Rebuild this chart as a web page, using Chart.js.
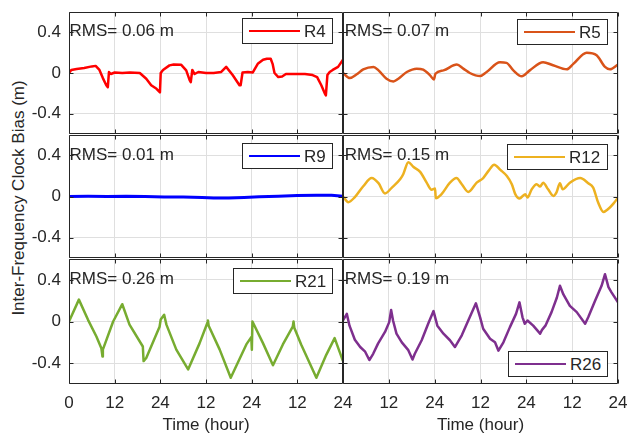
<!DOCTYPE html>
<html>
<head>
<meta charset="utf-8">
<title>Inter-Frequency Clock Bias</title>
<script src="https://cdn.jsdelivr.net/npm/chart.js@4/dist/chart.umd.min.js"></script>
<style>
  html, body { margin: 0; padding: 0; background: #fff; overflow: hidden; }
  #page { position: relative; width: 627px; height: 438px; overflow: hidden;
          font-family: "Liberation Sans", Arial, sans-serif; color: #262626; }
  .panel { position: absolute; }
  .panel canvas { display: block; }
  .rms { position: absolute; font-size: 17px; line-height: 17px; white-space: nowrap; }
  .legend { position: absolute; box-sizing: border-box; border: 1px solid #262626; background: #fff;
            display: flex; align-items: center; }
  .legend .swatch { position: absolute; left: 6px; width: 51px; height: 2px; }
  .legend .name { position: absolute; left: 61px; font-size: 17px; line-height: 17px; }
  #ytitle { position: absolute; left: 18px; top: 198px; font-size: 17px; line-height: 17px; white-space: nowrap;
            transform: translate(-50%, -50%) rotate(-90deg); }
</style>
</head>
<body>
<div id="page">
  <div id="ytitle">Inter-Frequency Clock Bias (m)</div>
</div>
<script>
// axis ticks (hours run 0..72 over three days, labelled per day)
const xTickValues = [0, 12, 24, 36, 48, 60, 72];
const xTickLabels = ['0', '12', '24', '12', '24', '12', '24'];
const yTickValues = [-0.4, 0, 0.4];
const yTickLabels = ['-0.4', '0', '0.4'];

const seriesNames = ['R4', 'R5', 'R9', 'R12', 'R21', 'R26'];
const rmsLabels = ['RMS= 0.06 m', 'RMS= 0.07 m', 'RMS= 0.01 m', 'RMS= 0.15 m', 'RMS= 0.26 m', 'RMS= 0.19 m'];

// values (hour, bias in m)
const r4Hours = [0, 0.6, 2, 4, 6, 7, 8, 8.9, 9.8, 10.2, 10.5, 11, 12, 14, 16, 18.6, 20.3, 21.6, 23, 23.9, 24.1, 24.7, 26.4, 27.5, 29.5, 30.8, 31.7, 32, 32.4, 33, 34, 36, 38, 40, 41.3, 43, 44.8, 45.1, 45.6, 47, 48.3, 49.6, 51, 52, 53, 53.5, 54, 55, 56, 57, 62, 64, 65.2, 66.3, 67.2, 67.5, 67.9, 68.5, 69.3, 70.7, 72];
const r4Bias = [0, 0.03, 0.04, 0.05, 0.065, 0.07, 0.03, -0.05, -0.12, -0.14, 0.01, -0.01, 0.005, 0, 0.005, 0, -0.056, -0.12, -0.155, -0.19, 0, 0.03, 0.075, 0.083, 0.08, 0.026, -0.07, -0.09, 0.03, -0.01, 0.01, 0, 0, 0.01, 0.06, -0.02, -0.12, -0.12, 0.005, 0.01, 0.005, 0.09, 0.13, 0.14, 0.14, 0.09, 0, -0.04, -0.035, -0.01, -0.01, -0.02, -0.04, -0.12, -0.2, -0.22, -0.02, 0.01, 0.03, 0.06, 0.13];

const r5Hours = [0, 1.8, 3.6, 5.3, 8, 9.3, 11.4, 13.2, 14.5, 16.7, 19.3, 21, 22.8, 23.8, 24.2, 26.3, 29.8, 31.5, 33.2, 35.9, 37.6, 41.1, 42.8, 44.6, 46.8, 48.9, 52.4, 55, 58.6, 60.3, 63.8, 66.4, 68.6, 69.9, 72];
const r5Bias = [0, -0.05, -0.013, 0.036, 0.06, 0.026, -0.056, -0.083, -0.056, 0.01, 0.043, 0.033, -0.023, -0.063, -0.007, 0.026, 0.083, 0.043, 0, -0.03, 0.01, 0.106, 0.1, 0.026, -0.033, 0.026, 0.106, 0.076, 0.036, 0.09, 0.2, 0.175, 0.06, 0.036, 0.083];

const r9Hours = [0, 5, 10, 15, 20, 25, 30, 35, 38, 42, 46, 50, 55, 60, 65, 69, 72];
const r9Bias = [0, 0.002, 0, 0.003, 0, -0.005, -0.005, -0.01, -0.015, -0.015, -0.01, -0.003, 0.002, 0.01, 0.013, 0.012, 0.003];

const r12Hours = [0, 1.4, 3.1, 5.3, 7.5, 9.3, 11, 12.8, 15, 15.8, 17.1, 18.4, 20.2, 21.9, 23.2, 24.1, 24.3, 25.8, 28, 29.7, 31.1, 32.8, 35, 36.7, 38.1, 39.6, 41.2, 42.9, 44.2, 45.1, 46.2, 47.7, 48.3, 49.4, 50.7, 51.6, 52.4, 53.7, 55.1, 55.9, 56.8, 57.5, 59.4, 62.1, 64.2, 65.5, 66.8, 68.2, 69.5, 70.8, 72];
const r12Bias = [0, -0.055, -0.006, 0.1, 0.18, 0.13, 0.03, 0.087, 0.17, 0.22, 0.335, 0.29, 0.24, 0.135, 0.065, 0.077, -0.016, 0.023, 0.135, 0.18, 0.12, 0.045, 0.135, 0.18, 0.25, 0.31, 0.26, 0.2, 0.12, 0.023, -0.02, 0.023, -0.01, 0.07, 0.12, 0.097, 0.135, 0.07, 0.006, 0.04, 0.13, 0.07, 0.135, 0.18, 0.13, 0.087, -0.058, -0.15, -0.12, -0.07, -0.01];

const r21Hours = [0, 2.6, 5, 7.2, 8.5, 8.8, 8.9, 11.6, 14, 15.9, 19.4, 19.6, 20.3, 23.8, 24.1, 25, 25.6, 28.2, 31.3, 34.3, 36.4, 36.5, 36.7, 39.6, 42.5, 46.6, 47.9, 48.05, 48.2, 51, 53.6, 56.2, 58.8, 59, 59.2, 61, 65, 67.6, 69.8, 72];
const r21Bias = [0, 0.21, 0.016, -0.144, -0.256, -0.336, -0.27, 0, 0.166, -0.03, -0.24, -0.38, -0.35, -0.05, 0.02, 0.064, -0.03, -0.27, -0.46, -0.21, -0.01, 0.01, -0.04, -0.27, -0.54, -0.22, -0.15, -0.27, 0, -0.21, -0.42, -0.22, -0.05, 0, -0.06, -0.22, -0.54, -0.32, -0.16, -0.38];

const r26Hours = [0, 1, 1.7, 3.1, 4.5, 5.8, 6.9, 7.9, 9.2, 11, 12.1, 12.6, 13.1, 14, 15.4, 17.1, 18.2, 18.8, 20.6, 22.3, 23.7, 24.7, 26.3, 28, 29.3, 31.1, 32.8, 34.8, 35.9, 36.7, 38.5, 39.8, 40.7, 42, 43.7, 45.3, 46.2, 47, 47.6, 48.3, 49.8, 51.6, 52.1, 53, 54.6, 56, 56.8, 57.7, 59.4, 61.2, 63.4, 64.2, 66, 67.7, 68.6, 69.5, 70.3, 72];
const r26Bias = [0.01, 0.073, -0.04, -0.175, -0.245, -0.29, -0.37, -0.31, -0.21, -0.1, -0.006, 0.11, 0.01, -0.117, -0.2, -0.275, -0.365, -0.31, -0.18, -0.022, 0.1, -0.04, -0.117, -0.18, -0.245, -0.133, 0.01, 0.175, 0.04, -0.07, -0.165, -0.2, -0.28, -0.2, -0.054, 0.073, 0.184, 0.04, -0.022, 0.01, -0.04, -0.117, -0.08, -0.04, 0.09, 0.23, 0.343, 0.26, 0.15, 0.09, -0.022, 0.04, 0.2, 0.343, 0.454, 0.33, 0.28, 0.184];

const seriesHours = [r4Hours, r5Hours, r9Hours, r12Hours, r21Hours, r26Hours];
const seriesBias = [r4Bias, r5Bias, r9Bias, r12Bias, r21Bias, r26Bias];
const seriesColors = ['#ff0000', '#d95319', '#0000ff', '#edb120', '#77ac30', '#7e2f8e'];
const seriesWidths = [2.5, 2.5, 3, 2.5, 2.5, 2.5];
const seriesSmooth = [false, true, false, true, false, false];

// layout: canvas boxes per column/row, padded so plot areas line up like the subplot grid
const colBoxes = [
  { left: 0, width: 360, padLeft: 0, padRight: 17, yWidth: 69 },
  { left: 341, width: 290, padLeft: 2, padRight: 13, yWidth: 0 }
];
const rowBoxes = [
  { top: 0, height: 136, padTop: 12, padBottom: 2, xHeight: 0 },
  { top: 133, height: 127, padTop: 2, padBottom: 2, xHeight: 0 },
  { top: 257, height: 181, padTop: 2, padBottom: 0, xHeight: 54 }
];
const rmsTops = [21.6, 145.6, 270];
const rmsLefts = [69.5, 344.7];
const legendBoxes = [
  { left: 242, top: 18, width: 91 },
  { left: 517, top: 19, width: 91 },
  { left: 242, top: 143, width: 91 },
  { left: 507, top: 144, width: 101 },
  { left: 233, top: 268, width: 100 },
  { left: 508, top: 351, width: 100 }
];

const textColor = '#262626';
const gridColor = '#dfdfdf';
const tickFont = { family: '"Liberation Sans", Arial, sans-serif', size: 17 };

// MATLAB-style box with inward tick marks
const boxPlugin = {
  id: 'box',
  afterDraw(chart) {
    const { ctx, chartArea: a, scales } = chart;
    const L = Math.round(a.left) + 0.5, R = Math.round(a.right) - 0.5;
    const T = Math.round(a.top) + 0.5, B = Math.round(a.bottom) - 0.5;
    ctx.save();
    ctx.strokeStyle = textColor;
    ctx.lineWidth = 1;
    ctx.beginPath();
    ctx.rect(L, T, R - L, B - T);
    xTickValues.forEach(v => {
      const px = Math.round(scales.x.getPixelForValue(v)) + 0.5;
      ctx.moveTo(px, T); ctx.lineTo(px, T + 4);
      ctx.moveTo(px, B); ctx.lineTo(px, B - 4);
    });
    yTickValues.forEach(v => {
      const py = Math.round(scales.y.getPixelForValue(v)) + 0.5;
      ctx.moveTo(L, py); ctx.lineTo(L + 4, py);
      ctx.moveTo(R, py); ctx.lineTo(R - 4, py);
    });
    ctx.stroke();
    ctx.restore();
  }
};

// keep Chart.js from reserving room for overhanging tick labels
function noOverhang(s) {
  s.paddingTop = 0; s.paddingBottom = 0; s.paddingLeft = 0; s.paddingRight = 0;
}

const page = document.getElementById('page');

function makePanel(i) {
  const col = i % 2, row = Math.floor(i / 2);
  const cb = colBoxes[col], rb = rowBoxes[row];
  const isLeft = col === 0, isBottom = row === 2;

  const wrap = document.createElement('div');
  wrap.className = 'panel';
  wrap.style.left = cb.left + 'px';
  wrap.style.top = rb.top + 'px';
  const canvas = document.createElement('canvas');
  canvas.width = cb.width; canvas.height = rb.height;
  canvas.style.width = cb.width + 'px'; canvas.style.height = rb.height + 'px';
  wrap.appendChild(canvas);
  page.appendChild(wrap);

  const points = seriesHours[i].map((h, k) => ({ x: h, y: seriesBias[i][k] }));

  new Chart(canvas, {
    type: 'line',
    data: {
      datasets: [{
        label: seriesNames[i],
        data: points,
        borderColor: seriesColors[i],
        borderWidth: seriesWidths[i],
        borderJoinStyle: 'round',
        pointRadius: 0,
        cubicInterpolationMode: seriesSmooth[i] ? 'monotone' : 'default',
        tension: 0
      }]
    },
    options: {
      responsive: false,
      animation: false,
      devicePixelRatio: 1,
      layout: { padding: { left: cb.padLeft, right: cb.padRight, top: rb.padTop, bottom: rb.padBottom } },
      plugins: { legend: { display: false }, tooltip: { enabled: false } },
      scales: {
        x: {
          type: 'linear', min: 0, max: 72,
          afterBuildTicks: s => { s.ticks = xTickValues.map(v => ({ value: v })); },
          afterFit: s => { s.height = rb.xHeight; noOverhang(s); },
          grid: { color: gridColor, drawTicks: false },
          border: { display: false },
          ticks: {
            display: isBottom, padding: 9, font: tickFont, color: textColor,
            maxRotation: 0, autoSkip: false,
            callback: v => {
              const k = xTickValues.indexOf(v);
              if (!isLeft && k === 0) return '';
              return xTickLabels[k];
            }
          },
          title: { display: isBottom, text: 'Time (hour)', font: tickFont, color: textColor, padding: { top: 0, bottom: 2 } }
        },
        y: {
          type: 'linear', min: -0.6, max: 0.6,
          afterBuildTicks: s => { s.ticks = yTickValues.map(v => ({ value: v })); },
          afterFit: s => { s.width = cb.yWidth; noOverhang(s); },
          grid: { color: gridColor, drawTicks: false },
          border: { display: false },
          ticks: {
            display: isLeft, padding: 8, font: tickFont, color: textColor,
            callback: v => yTickLabels[yTickValues.indexOf(v)]
          }
        }
      }
    },
    plugins: [boxPlugin]
  });

  // RMS annotation
  const rms = document.createElement('div');
  rms.className = 'rms';
  rms.textContent = rmsLabels[i];
  rms.style.left = rmsLefts[col] + 'px';
  rms.style.top = rmsTops[row] + 'px';
  page.appendChild(rms);

  // legend box
  const lb = legendBoxes[i];
  const leg = document.createElement('div');
  leg.className = 'legend';
  leg.style.left = lb.left + 'px';
  leg.style.top = lb.top + 'px';
  leg.style.width = lb.width + 'px';
  leg.style.height = '26px';
  const sw = document.createElement('div');
  sw.className = 'swatch';
  sw.style.background = seriesColors[i];
  const nm = document.createElement('div');
  nm.className = 'name';
  nm.textContent = seriesNames[i];
  leg.appendChild(sw);
  leg.appendChild(nm);
  page.appendChild(leg);
}

for (let i = 0; i < seriesNames.length; i++) makePanel(i);
</script>
</body>
</html>
